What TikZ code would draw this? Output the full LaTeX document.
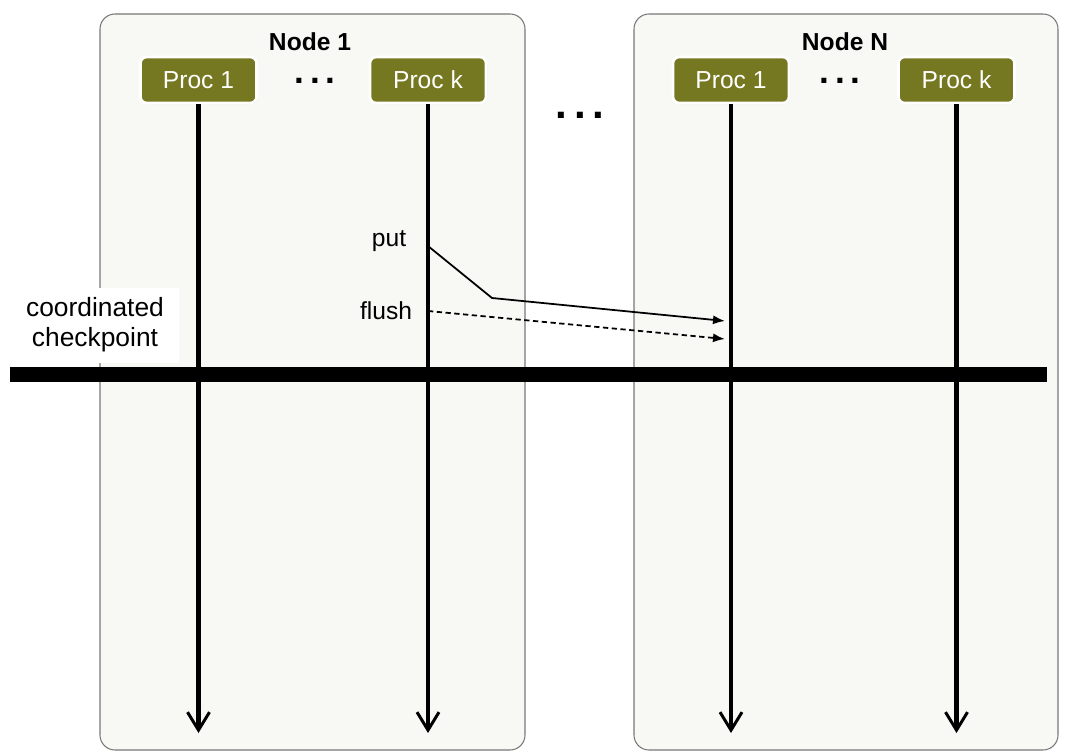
\documentclass[tikz,border=0pt]{standalone}
\usepackage{fontspec}
\setmainfont{Liberation Sans}
\usepackage{xcolor}
\usepackage{tikz}
\usetikzlibrary{arrows.meta,positioning,shadows}
\definecolor{procolive}{RGB}{117, 120, 32}
\definecolor{hostfill}{RGB}{248, 248, 244}
\definecolor{hostborder}{RGB}{120, 120, 120}

\begin{document}
\begin{tikzpicture}[
  host/.style={draw=hostborder, fill=hostfill, rounded corners=3mm, line width=0.6pt},
  hosttitle/.style={font=\fontsize{14}{16}\selectfont\bfseries, text=black},
  proc/.style={rectangle, draw=white, fill=procolive, rounded corners=1.2mm, line width=1.6pt, minimum width=2.32cm, minimum height=0.92cm, text=white, font=\fontsize{14}{16}\selectfont, drop shadow={opacity=0.35, shadow xshift=0.6pt, shadow yshift=-0.6pt}},
  lifeline/.style={-{Straight Barb[length=3.6mm,width=4.4mm,line width=1.7pt]}, line width=2.8pt},
  msgarrow/.style={-{Latex[length=2.4mm,width=1.8mm]}, line width=1pt},
  flusharrow/.style={-{Latex[length=2.4mm,width=1.8mm]}, dashed, dash pattern=on 3pt off 2pt, line width=1pt},
  lbl/.style={font=\fontsize{14}{16}\selectfont, text=black},
  dots/.style={font=\fontsize{20}{22}\selectfont\bfseries}
]
\useasboundingbox (0,0) rectangle (21.42,-15.1);

% Host boxes
\draw[host] (2.0,-0.28) rectangle (10.5,-15.0);
\draw[host] (12.68,-0.28) rectangle (21.16,-15.0);
\node[hosttitle] (t1) at (6.2,-0.84) {Node 1};
\node[hosttitle] (tn) at (16.9,-0.84) {Node N};

% Processes
\node[proc] (p11) at (3.97,-1.6) {Proc 1};
\node[proc] (p1k) at (8.56,-1.6) {Proc k};
\node[proc] (pn1) at (14.62,-1.6) {Proc 1};
\node[proc] (pnk) at (19.13,-1.6) {Proc k};
\node[dots] (d1) at (6.3,-1.62) {.\,.\,.};
\node[dots] (dn) at (16.8,-1.62) {.\,.\,.};
\node[dots, font=\fontsize{24}{26}\selectfont\bfseries] (dmid) at (11.6,-2.3) {.\,.\,.};

% Lifeline ends
\coordinate (e11) at (3.97,-14.66);
\coordinate (e1k) at (8.56,-14.66);
\coordinate (en1) at (14.62,-14.66);
\coordinate (enk) at (19.13,-14.66);

% Coordinated checkpoint bar
\coordinate (barl) at (0.2,-7.48);
\coordinate (barr) at (20.94,-7.48);
\node[lbl, fill=white, align=center, inner sep=3pt, minimum width=3.36cm, minimum height=1.5cm, font=\fontsize{15}{17}\selectfont] (ckpt) at (1.9,-6.5) {coordinated\\checkpoint};
\draw[line width=0.3cm] (barl) -- (barr);

% Lifelines
\draw[lifeline] (p11.south) -- (e11);
\draw[lifeline] (p1k.south) -- (e1k);
\draw[lifeline] (pn1.south) -- (en1);
\draw[lifeline] (pnk.south) -- (enk);

% put / flush
\node[lbl] (put) at (7.78,-4.82) {put};
\node[lbl] (flush) at (7.72,-6.22) {flush};
\coordinate (puts) at (8.56,-4.92);
\coordinate (putb) at (9.84,-5.96);
\coordinate (pute) at (14.5,-6.42);
\coordinate (flushs) at (8.56,-6.22);
\coordinate (flushe) at (14.5,-6.78);
\draw[msgarrow] (puts) -- (putb) -- (pute);
\draw[flusharrow] (flushs) -- (flushe);

\end{tikzpicture}
\end{document}
